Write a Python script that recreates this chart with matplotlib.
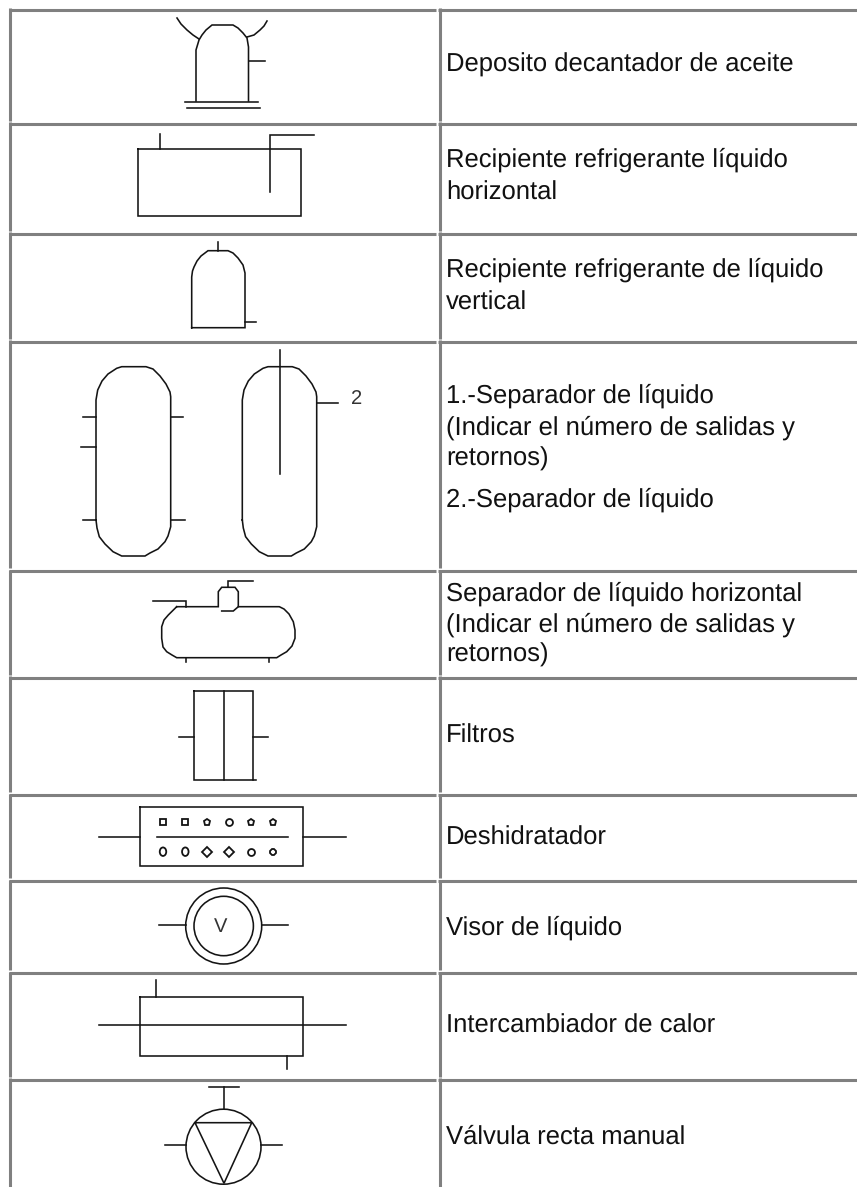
import matplotlib
matplotlib.use('Agg')
import matplotlib.pyplot as plt
from matplotlib.patches import Circle, Ellipse

plt.rcParams['font.family'] = ['Liberation Sans', 'DejaVu Sans']
plt.rcParams['text.hinting'] = 'none'

# Table grid, in pixels of the source image
row_tops = [9.5, 123.5, 233.5, 341.5, 571, 677.5, 795, 881, 973, 1079.5]
left_x = 10.5
divider_x = 440
grid_color = '#808080'

# Text of the right column: (baseline, text)
labels = [
    (71.7, 'Deposito decantador de aceite'),
    (167, 'Recipiente refrigerante líquido'),
    (199.5, 'horizontal'),
    (277, 'Recipiente refrigerante de líquido'),
    (310, 'vertical'),
    (402.7, '1.-Separador de líquido'),
    (435, '(Indicar el número de salidas y'),
    (465.5, 'retornos)'),
    (506.7, '2.-Separador de líquido'),
    (600.7, 'Separador de líquido horizontal'),
    (632, '(Indicar el número de salidas y'),
    (662, 'retornos)'),
    (742.7, 'Filtros'),
    (845, 'Deshidratador'),
    (935, 'Visor de líquido'),
    (1032.7, 'Intercambiador de calor'),
    (1144, 'Válvula recta manual'),
]

# Deposito decantador
deposito = [
    [(196, 101), (196, 50), (197.5, 45), (199, 40), (202, 35), (206, 30), (212, 25), (233, 25), (238, 28), (243, 33), (247, 38), (248.5, 47), (248.5, 101)],
    [(177, 18), (181, 24), (187, 30), (193, 35), (199, 39)],
    [(267, 21), (264, 26), (260, 30), (254, 35), (247, 37)],
    [(249.5, 61), (265.5, 61)],
    [(185, 101.5), (258, 101.5)],
    [(187, 108), (260, 108)],
]

# Recipiente horizontal
recipiente_h = [
    [(137.7, 149), (301, 149), (301, 216), (137.7, 216), (137.7, 149)],
    [(160, 134), (160, 149)],
    [(270.5, 192), (270.5, 135), (314, 135)],
]

# Recipiente vertical
recipiente_v = [
    [(191.7, 327.7), (191.7, 277), (192.5, 271), (194, 267), (197, 261), (201, 256), (208, 250.7), (228, 250.7), (233, 253), (238, 258), (243, 265), (245, 273), (245, 327.7), (191.7, 327.7)],
    [(218.3, 242), (218.3, 250.7)],
    [(245, 321.7), (255.7, 321.7)],
]

# Separadores verticales
separador_1 = [
    [(96, 520), (97, 528), (99.3, 536.7), (105, 544), (113, 551.7), (121.7, 556), (145, 556), (150, 553), (158, 549), (165, 541.7), (168, 536), (170.7, 526.7),
     (170.7, 396.7), (170, 392), (166, 384), (160, 376), (153, 369), (146, 366.7), (121.7, 366.7), (116.7, 368.3), (108, 374), (102, 381), (97.7, 390), (96, 400), (96, 520)],
    [(83.3, 417.3), (96, 417.3)],
    [(81, 447.3), (96, 447.3)],
    [(83.3, 520), (96, 520)],
    [(170.7, 417.3), (183.3, 417.3)],
    [(170.7, 520), (185.3, 520)],
]
separador_2 = [
    [(242.3, 520), (243.3, 528), (245.6, 536.7), (251.3, 544), (259.3, 551.7), (268, 556), (291.3, 556), (296.3, 553), (304.3, 549), (311.3, 541.7), (314.3, 536), (316.7, 526.7),
     (316.7, 396.7), (316, 392), (312, 384), (306, 376), (299, 369), (292.3, 366.7), (268, 366.7), (263, 368.3), (254.3, 374), (248.3, 381), (244, 390), (242.3, 400), (242.3, 520)],
    [(316.7, 402.7), (337.7, 402.7)],
    [(280.3, 350), (280.3, 474)],
]

# Separador horizontal
separador_h = [
    [(176.7, 606.7), (218.3, 606.7), (218.3, 591.7), (221.7, 587.3), (235, 587.3), (238.3, 591.7), (238.3, 606.7), (279.3, 606.7),
     (284, 609), (289, 614), (293.3, 621.7), (295, 630), (295, 638.3), (292, 646), (286.7, 651.7), (281, 655), (276.7, 657.7), (176.7, 657.7),
     (172, 655), (166.7, 651.7), (163, 647), (161.7, 638.3), (161.7, 626.7), (164, 620), (168.3, 615), (176.7, 606.7)],
    [(153.3, 601), (186, 601), (186, 606.7)],
    [(186, 657.7), (186, 662.3)],
    [(268.7, 657.7), (268.7, 662.3)],
    [(221.7, 611), (233.3, 611), (238.3, 606.7)],
    [(227.7, 586.7), (227.7, 580.7), (253.3, 580.7)],
]

# Filtros
filtros = [
    [(194, 691), (253.3, 691), (253.3, 780), (194, 780), (194, 691)],
    [(224.3, 691), (224.3, 780)],
    [(179, 737.3), (194, 737.3)],
    [(253.3, 737.3), (268, 737.3)],
    [(253.3, 780), (255.7, 780)],
]

# Deshidratador
deshidratador = [
    [(140, 806.7), (303.3, 806.7), (303.3, 865.7), (140, 865.7), (140, 806.7)],
    [(157.3, 837.3), (287.7, 837.3)],
    [(99.3, 837.3), (140, 837.3)],
    [(303.3, 837.3), (346, 837.3)],
]
grain_x = [163, 185.3, 207, 228.7, 250.7, 273]
grain_top_y = 822
grain_bottom_y = 851.7
grain_top_markers = ['s', 's', 'p', 'o', 'p', 'p']
grain_bottom_markers = ['zero', 'zero', 'D', 'D', 'o', '8']

# Visor de liquido
visor = [
    [(159, 925), (185.7, 925)],
    [(261.7, 925), (287.7, 925)],
]
visor_center = (223.7, 926)
visor_radii = [38, 29.7]

# Intercambiador
intercambiador = [
    [(140, 997.3), (303, 997.3), (303, 1055.7), (140, 1055.7), (140, 997.3)],
    [(99.3, 1025.3), (346, 1025.3)],
    [(156, 980), (156, 997.3)],
    [(286.7, 1055.7), (286.7, 1069)],
]

# Valvula manual
valvula = [
    [(209.3, 1086.7), (239.3, 1086.7)],
    [(224.3, 1086.7), (224.3, 1109)],
    [(165, 1145.3), (186, 1145.3)],
    [(261, 1145.3), (281.7, 1145.3)],
    [(195, 1122.7), (251.7, 1122.7), (224, 1183.3), (195, 1122.7)],
]
valvula_center = (223.5, 1146.7)
valvula_radius = 37.5

symbols = [deposito, recipiente_h, recipiente_v, separador_1, separador_2, separador_h,
           filtros, deshidratador, visor, intercambiador, valvula]

W, H = 857, 1187
ink = '#141414'
lw = 1.15

fig = plt.figure(figsize=(W / 100, H / 100), dpi=100)
ax = fig.add_axes([0, 0, 1, 1])
ax.set_xlim(0, W)
ax.set_ylim(H, 0)
ax.axis('off')

# grid: each row has its own lines, with the little gaps the html table has
bottoms = row_tops[1:] + [H + 3]
for top, bottom in zip(row_tops, bottoms):
    ax.plot([9, 436.5], [top, top], color=grid_color, lw=2.2, solid_capstyle='butt')
    ax.plot([438.5, W], [top, top], color=grid_color, lw=2.2, solid_capstyle='butt')
    ax.plot([left_x, left_x], [top - 1.5, bottom - 3], color=grid_color, lw=2.2, solid_capstyle='butt')
    ax.plot([divider_x, divider_x], [top - 1.5, bottom - 3], color=grid_color, lw=2.2, solid_capstyle='butt')

for y, text in labels:
    ax.text(446, y, text, fontsize=18.45, color='#111111', va='baseline', ha='left')

for symbol in symbols:
    for line in symbol:
        xs = [p[0] for p in line]
        ys = [p[1] for p in line]
        ax.plot(xs, ys, color=ink, lw=lw, solid_joinstyle='miter')

for x, m in zip(grain_x, grain_top_markers):
    ax.plot(x, grain_top_y, marker=m, ms=5.0, mfc='white', mec=ink, mew=1.3)
for x, m in zip(grain_x, grain_bottom_markers):
    if m == 'zero':
        ax.add_patch(Ellipse((x, grain_bottom_y), 6.5, 8.5, fc='white', ec=ink, lw=1.3))
    else:
        ax.plot(x, grain_bottom_y, marker=m, ms=5.0, mfc='white', mec=ink, mew=1.3)

for r in visor_radii:
    ax.add_patch(Circle(visor_center, r, fill=False, ec=ink, lw=lw))
ax.add_patch(Circle(valvula_center, valvula_radius, fill=False, ec=ink, lw=lw))

ax.text(351, 404, '2', fontsize=14.5, color='#333333', va='baseline', ha='left')
ax.text(220.5, 932.5, 'V', fontsize=14.5, color='#333333', va='baseline', ha='center')

fig.savefig('out.png', dpi=100)
